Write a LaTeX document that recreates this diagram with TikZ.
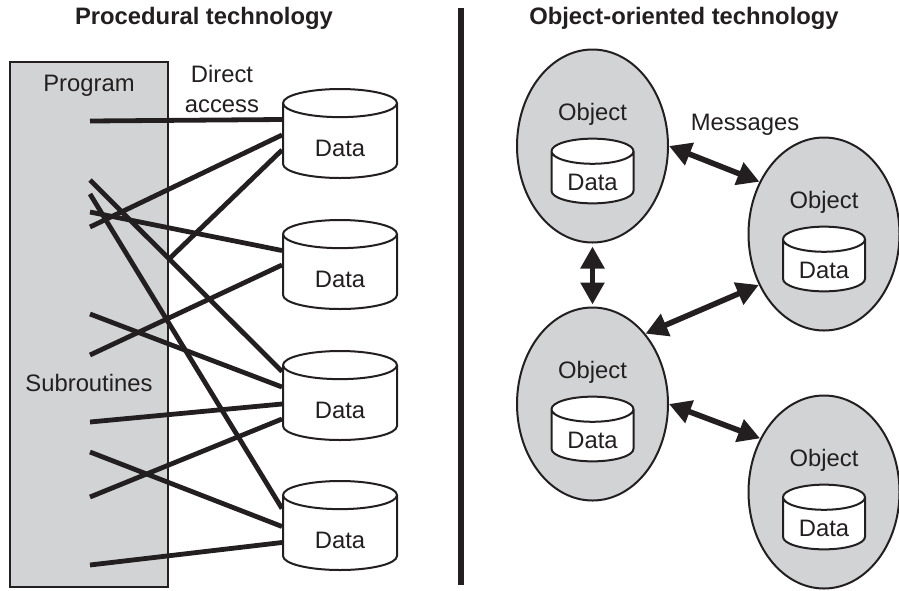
\documentclass[tikz,border=0pt]{standalone}
\usepackage{fontspec}
\setmainfont{Liberation Sans}
\usepackage{tikz}
\usetikzlibrary{positioning,shapes.geometric,arrows.meta}

\definecolor{boxgray}{RGB}{209,211,212}
\definecolor{ink}{RGB}{35,31,32}

\begin{document}
\begin{tikzpicture}[
    x=0.5pt, y=-0.5pt, % one unit is one pixel of the layout, y downwards
    every node/.style={font=\fontsize{11.9}{15}\selectfont, text=ink},
    title/.style={font=\fontsize{11.9}{15}\selectfont\bfseries},
    database/.style={
        cylinder, shape border rotate=90, aspect=0.56,
        draw=ink, line width=1pt, fill=white,
        minimum width=57pt, minimum height=44.5pt, inner sep=0pt,
        text height=15pt, text depth=0pt
    },
    smalldb/.style={database, aspect=0.5, minimum width=41pt, minimum height=32pt,
        text height=13pt},
    object/.style={
        ellipse, draw=ink, line width=1pt, fill=boxgray,
        minimum width=75.5pt, minimum height=96.5pt, inner sep=0pt
    },
    link/.style={draw=ink, line width=2.4pt},
    message/.style={draw=ink, line width=2.8pt,
        {Triangle[length=11pt,width=11.5pt]}-{Triangle[length=11pt,width=11.5pt]}}
]
\useasboundingbox (0,0) rectangle (899,590);

% --- Procedural side ---
\node[title] (proc) at (204,18) {Procedural technology};
\node[draw=ink, line width=0.8pt, fill=boxgray, minimum width=79pt,
      minimum height=262.5pt, inner sep=0pt] (prog) at (89,324.5) {};
\node (progl) at (89,86) {Program};
\node (subl) at (89,383) {Subroutines};
\node[align=center] (acc) at (222,89) {Direct\\access};

\node[database, anchor=shape center] (d1) at (340,133.5) {Data};
\node[database, below=20pt of d1] (d2) {Data};
\node[database, below=20pt of d2] (d3) {Data};
\node[database, below=19.5pt of d3] (d4) {Data};

% subroutine end points
\coordinate (p1) at (90,121);
\coordinate (p2) at (90,180);
\coordinate (p3) at (90,194);
\coordinate (p4) at (90,212);
\coordinate (p5) at (90,227);
\coordinate (p6) at (90,314);
\coordinate (p7) at (90,355);
\coordinate (p8) at (90,422);
\coordinate (p9) at (90,452);
\coordinate (p10) at (90,497);
\coordinate (p11) at (90,565);
\coordinate (e1) at (168,260);

% links end on the left side of each cylinder
\draw[link] (p1) -- ([yshift=7pt]d1.shape center -| d1.west);
\draw[link] (p2) -- ([yshift=12pt]d3.shape center -| d3.west);
\draw[link] (p3) -- ([yshift=8.5pt]d4.shape center -| d4.west);
\draw[link] (p4) -- ([yshift=7pt]d2.shape center -| d2.west);
\draw[link] (p5) -- ([yshift=-0.75pt]d1.shape center -| d1.west);
\draw[link] (e1) -- ([yshift=-8.25pt]d1.shape center -| d1.west);
\draw[link] (p6) -- ([yshift=4.25pt]d3.shape center -| d3.west);
\draw[link] (p7) -- ([yshift=-0.25pt]d2.shape center -| d2.west);
\draw[link] (p8) -- ([yshift=-4.25pt]d3.shape center -| d3.west);
\draw[link] (p9) -- ([yshift=-0.5pt]d4.shape center -| d4.west);
\draw[link] (p10) -- ([yshift=-11.75pt]d3.shape center -| d3.west);
\draw[link] (p11) -- ([yshift=-8.5pt]d4.shape center -| d4.west);

% --- divider ---
\draw[ink, line width=2.6pt] (461,8) -- (461,585);

% --- Object-oriented side ---
\node[title] (oot) at (684,18) {Object-oriented technology};

\node[object] (o1) at (592.5,146) {};
\node[object] (o2) at (824,234) {};
\node[object, below=31.5pt of o1] (o3) {};
\node[object, below=31.5pt of o2] (o4) {};

\node[smalldb, anchor=shape center, yshift=-12.5pt] (c1) at (o1) {Data};
\node[smalldb, anchor=shape center, yshift=-12.5pt] (c2) at (o2) {Data};
\node[smalldb, anchor=shape center, yshift=-12.5pt] (c3) at (o3) {Data};
\node[smalldb, anchor=shape center, yshift=-12.5pt] (c4) at (o4) {Data};

\node[inner sep=0pt, above=6pt of c1] (l1) {Object};
\node[inner sep=0pt, above=6pt of c2] (l2) {Object};
\node[inner sep=0pt, above=6pt of c3] (l3) {Object};
\node[inner sep=0pt, above=6pt of c4] (l4) {Object};

\node (msg) at (745,125) {Messages};

\draw[message] (o1.east) -- (o2.141);
\draw[message] ([yshift=-1.5pt]o1.south) -- ([yshift=1pt]o3.north);
\draw[message] (o2.218) -- (o3.53);
\draw[message] (o3.east) -- (o4.140);

\end{tikzpicture}
\end{document}
